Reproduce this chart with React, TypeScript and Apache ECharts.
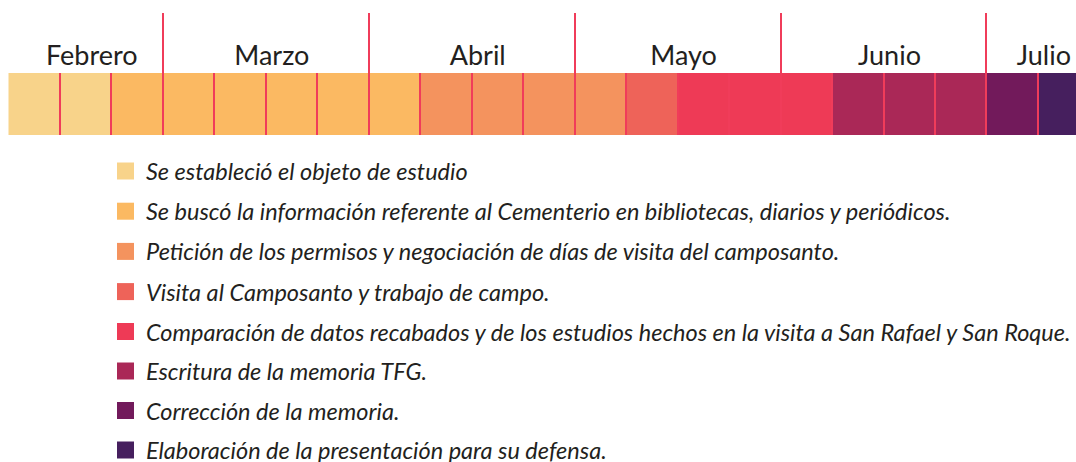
import React, { useEffect, useRef } from "react";
import * as echarts from "echarts";

const weekTasks = [0, 0, 1, 1, 1, 1, 1, 1, 2, 2, 2, 2, 3, 4, 4, 4, 5, 5, 5, 6, 7];
const taskNames = [
  "Se estableció el objeto de estudio",
  "Se buscó la información referente al Cementerio en bibliotecas, diarios y periódicos.",
  "Petición de los permisos y negociación de días de visita del camposanto.",
  "Visita al Camposanto y trabajo de campo.",
  "Comparación de datos recabados y de los estudios hechos en la visita a San Rafael y San Roque.",
  "Escritura de la memoria TFG.",
  "Corrección de la memoria.",
  "Elaboración de la presentación para su defensa.",
];
const taskColors = ["#F8D38A", "#FBB962", "#F4935E", "#EE6359", "#EE3A56", "#AA2857", "#721A5B", "#461F5E"];
const months = ["Febrero", "Marzo", "Abril", "Mayo", "Junio", "Julio"];
const monthStarts = [0, 3, 7, 11, 15, 19];
const monthEnds = [3, 7, 11, 15, 19, 21];
const weekBoundaries = [1, 2, 3, 4, 5, 6, 7, 8, 9, 10, 11, 12, 13, 14, 15, 16, 17, 18, 19, 20];
const monthBoundaries = [3, 7, 11, 15, 19];
// the timeline is cropped at the right edge of the picture; only this many weeks are visible
const VISIBLE_WEEKS = 20.74;

const BAR_TOP = 73;
const BAR_H = 62;
const LINE_COLOR = "#F03C5A";

const legendBase = {
  orient: "vertical",
  left: 117,
  padding: 0,
  itemWidth: 17,
  itemHeight: 17,
  selectedMode: false,
  textStyle: {
    fontFamily: "Lato",
    fontStyle: "italic",
    fontSize: 23.5,
    color: "#231F20",
    padding: [0, 0, 0, 7],
  },
};

export default function App() {
  const ref = useRef<HTMLDivElement>(null);
  useEffect(() => {
    const chart = echarts.init(ref.current!, undefined, { renderer: "svg" });
    const taskSeries = taskNames.map((name, t) => ({
      type: "custom",
      name,
      coordinateSystem: "cartesian2d",
      clip: false,
      itemStyle: { color: taskColors[t] },
      data: weekTasks.map((tk, w) => (tk === t ? [w] : null)).filter((d) => d !== null),
      renderItem: (params: any, api: any) => {
        const w = api.value(0);
        const x0 = api.coord([w, 0])[0];
        const x1 = api.coord([w + 1, 0])[0];
        return {
          type: "rect",
          shape: { x: x0, y: BAR_TOP, width: x1 - x0, height: BAR_H },
          style: { fill: taskColors[t] },
        };
      },
    }));
    const sepSeries = {
      type: "custom",
      name: "sep",
      clip: false,
      data: weekBoundaries.map((b) => [b, monthBoundaries.includes(b) ? 1 : 0]),
      renderItem: (params: any, api: any) => {
        const x = Math.round(api.coord([api.value(0), 0])[0]);
        const isMonth = api.value(1) === 1;
        return {
          type: "line",
          shape: { x1: x, y1: isMonth ? 13 : BAR_TOP, x2: x, y2: BAR_TOP + BAR_H },
          style: { stroke: LINE_COLOR, lineWidth: 2 },
        };
      },
    };
    const monthSeries = {
      type: "custom",
      name: "months",
      clip: false,
      data: months.map((m, i) => [monthStarts[i], monthEnds[i], m]),
      renderItem: (params: any, api: any) => {
        const i = params.dataIndex;
        const xa = api.coord([monthStarts[i], 0])[0];
        const xb = api.coord([monthEnds[i], 0])[0];
        return {
          type: "text",
          style: {
            x: (xa + xb) / 2 + 6,
            y: 54,
            text: months[i],
            textAlign: "center",
            textVerticalAlign: "middle",
            font: "27px Lato",
            fill: "#231F20",
          },
        };
      },
    };
    chart.setOption({
      animation: false,
      grid: { left: 8.5, top: 0, right: 0, bottom: 0 },
      xAxis: { type: "value", min: 0, max: VISIBLE_WEEKS, show: false },
      yAxis: { type: "value", min: 0, max: 1, show: false },
      legend: [
        { ...legendBase, top: 159.5, itemGap: 17.2, data: taskNames.slice(0, 4).map((n) => ({ name: n, icon: "rect" })) },
        { ...legendBase, top: 320, itemGap: 16.5, data: taskNames.slice(4).map((n) => ({ name: n, icon: "rect" })) },
      ],
      series: [...taskSeries, sepSeries, monthSeries],
    });
    return () => chart.dispose();
  }, []);
  return <div ref={ref} style={{ position: "absolute", left: 0, top: 0, width: 1076, height: 462 }} />;
}
